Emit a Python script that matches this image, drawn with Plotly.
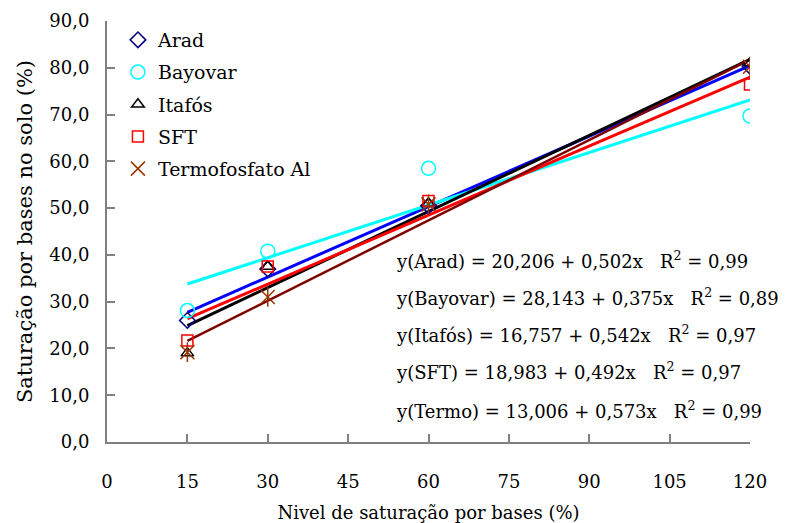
import plotly.graph_objects as go

# ---- data ----
nivel = [15, 30, 60, 120]
arad = [26.0, 37.0, 50.5, 80.3]
bayovar = [28.1, 40.8, 58.5, 69.7]
itafos = [19.0, 37.5, 51.0, 81.0]
sft = [21.7, 37.5, 51.5, 76.4]
termo = [19.2, 31.0, 50.8, 80.2]

names = ["Arad", "Bayovar", "Itafós", "SFT", "Termofosfato Al"]
eq_names = ["Arad", "Bayovar", "Itafós", "SFT", "Termo"]
intercepts = [20.206, 28.143, 16.757, 18.983, 13.006]
slopes = [0.502, 0.375, 0.542, 0.492, 0.573]
r2_labels = ["0,99", "0,89", "0,97", "0,97", "0,99"]
x_ticks = [0, 15, 30, 45, 60, 75, 90, 105, 120]
y_ticks = [0, 10, 20, 30, 40, 50, 60, 70, 80, 90]

series = [arad, bayovar, itafos, sft, termo]
line_colors = ["#0000FF", "#00FFFF", "#000000", "#FF0000", "#800000"]
marker_colors = ["#000080", "#00FFFF", "#000000", "#FF0000", "#993300"]
symbols = ["diamond-open", "circle-open", "triangle-up-open", "square-open", "x-thin-open"]
msizes = [12, 14, 11, 11, 14]
line_widths = [3, 3, 3, 3, 2.5]

FONT = "DejaVu Serif"

fig = go.Figure()

# trend lines
x_fit = [nivel[0], nivel[-1]]
for i in range(5):
    y_fit = [intercepts[i] + slopes[i] * xv for xv in x_fit]
    fig.add_trace(go.Scatter(x=x_fit, y=y_fit, mode="lines",
                             line=dict(color=line_colors[i], width=line_widths[i]),
                             showlegend=False, hoverinfo="skip"))

# markers
for i in range(5):
    fig.add_trace(go.Scatter(x=nivel, y=series[i], mode="markers", name=names[i],
                             legendgroup=names[i],
                             marker=dict(symbol=symbols[i], size=msizes[i],
                                         color=marker_colors[i],
                                         line=dict(color=marker_colors[i], width=1.5))))
# vertical stroke to complete the Excel-style star marker
fig.add_trace(go.Scatter(x=nivel, y=termo, mode="markers", showlegend=False,
                         marker=dict(symbol="line-ns-open", size=14, color=marker_colors[4],
                                     line=dict(color=marker_colors[4], width=1.5)),
                         hoverinfo="skip"))

# equations
eq_y = [38.9, 31.1, 23.0, 15.1, 6.9]
for i in range(5):
    a = f"{intercepts[i]:.3f}".replace(".", ",")
    b = f"{slopes[i]:.3f}".replace(".", ",")
    txt = f"y({eq_names[i]}) = {a} + {b}x\u00a0\u00a0\u00a0R<sup>2</sup> = {r2_labels[i]}"
    fig.add_annotation(x=53.5, y=eq_y[i], xref="x", yref="y", text=txt,
                       showarrow=False, xanchor="left", yanchor="middle",
                       font=dict(family=FONT, size=18, color="black"))

fig.update_layout(
    width=787, height=515,
    margin=dict(l=99, r=45, t=13, b=81),
    paper_bgcolor="white", plot_bgcolor="white",
    separators=",.",
    font=dict(family=FONT, size=18, color="black"),
    legend=dict(x=0.017, y=1.0, xanchor="left", yanchor="top",
                font=dict(family=FONT, size=19, color="black"),
                bgcolor="rgba(0,0,0,0)", tracegroupgap=4.5, itemwidth=30),
    showlegend=True,
)

fig.update_xaxes(range=[0, 120], tickvals=x_ticks, ticktext=[str(v) for v in x_ticks],
                 ticks="inside", ticklen=8, tickcolor="#808080", tickwidth=1.5,
                 showline=True, linecolor="#808080", linewidth=2,
                 showgrid=False, zeroline=False, ticklabelstandoff=22,
                 automargin=False,
                 tickfont=dict(family=FONT, size=18),
                 title=dict(text="Nivel de saturação por bases (%)", standoff=22,
                            font=dict(family=FONT, size=18)))
fig.update_yaxes(range=[0, 90], tickvals=y_ticks, tickformat=".1f",
                 ticks="inside", ticklen=8, tickcolor="#808080", tickwidth=1.5,
                 showline=True, linecolor="#808080", linewidth=2,
                 showgrid=False, zeroline=False, ticklabelstandoff=12,
                 automargin=False,
                 tickfont=dict(family=FONT, size=18),
                 title=dict(text="Saturação por bases no solo (%)", standoff=11,
                            font=dict(family=FONT, size=21)))

fig.write_html("out.html")
